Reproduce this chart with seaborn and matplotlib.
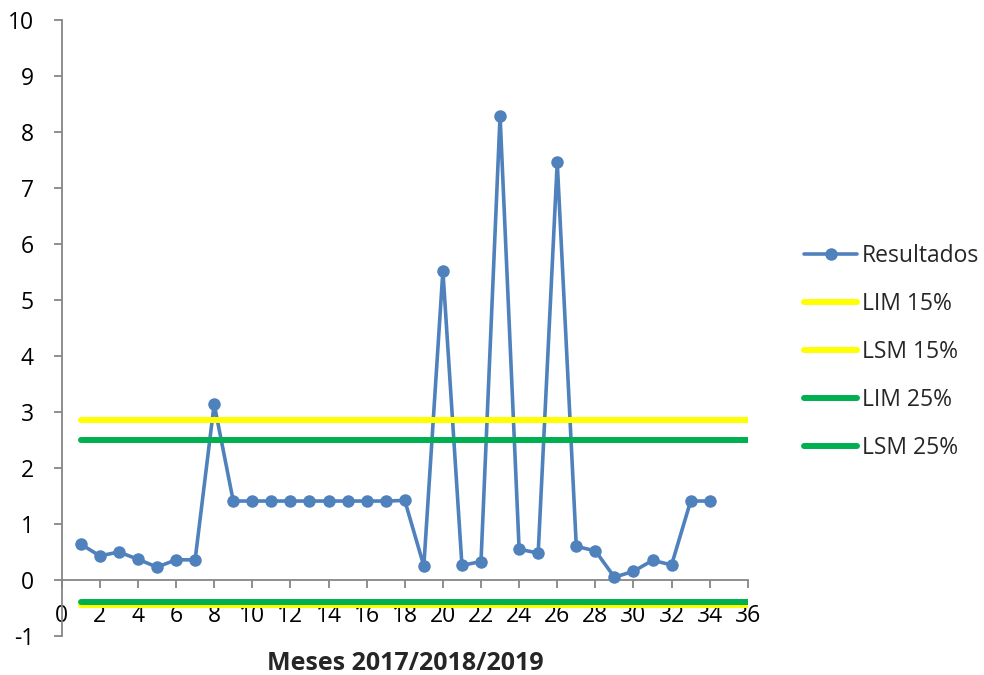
import matplotlib
matplotlib.use("Agg")
import matplotlib.pyplot as plt
import seaborn as sns
import pandas as pd

# Monthly results
meses = list(range(1, 35))
resultados = [0.64, 0.43, 0.50, 0.37, 0.23, 0.36, 0.36, 3.14, 1.41, 1.41,
              1.41, 1.41, 1.41, 1.41, 1.41, 1.41, 1.41, 1.42, 0.25, 5.52,
              0.26, 0.33, 8.29, 0.55, 0.48, 7.46, 0.60, 0.52, 0.05, 0.155,
              0.35, 0.27, 1.41, 1.41]

# Control limits (drawn across months 1..36)
limite_x = [1, 36]
lim_15 = -0.45
lsm_15 = 2.85
lim_25 = -0.40
lsm_25 = 2.50

sns.set_theme(style="white")
plt.rcParams["font.family"] = ["Open Sans", "DejaVu Sans"]
plt.rcParams["axes.unicode_minus"] = False

fig = plt.figure(figsize=(9.84, 6.75), dpi=100)
ax = fig.add_axes([0.0627, 0.0578, 0.6973, 0.9126])

df = pd.DataFrame({"mes": meses, "valor": resultados})
sns.lineplot(data=df, x="mes", y="valor", ax=ax, color="#4F81BD", lw=2.6,
             marker="o", markersize=9, markeredgewidth=0, label="Resultados",
             zorder=3)

limites = [("LIM 15%", lim_15, "#FFFF00"),
           ("LSM 15%", lsm_15, "#FFFF00"),
           ("LIM 25%", lim_25, "#00B050"),
           ("LSM 25%", lsm_25, "#00B050")]
for nombre, valor, color in limites:
    d = pd.DataFrame({"mes": limite_x, "valor": [valor, valor]})
    sns.lineplot(data=d, x="mes", y="valor", ax=ax, color=color, lw=4.3,
                 label=nombre, solid_capstyle="round", zorder=4)

ax.set_xlim(0, 36)
ax.set_ylim(-1, 10)
ax.set_xticks(range(0, 37, 2))
ax.set_yticks(range(-1, 11))

spine_color = "#868686"
for s in ["top", "right"]:
    ax.spines[s].set_visible(False)
ax.spines["bottom"].set_position(("data", 0))
for s in ["left", "bottom"]:
    ax.spines[s].set_color(spine_color)
    ax.spines[s].set_linewidth(1.3)

ax.tick_params(axis="both", which="major", direction="out", length=6,
               width=1.3, color=spine_color, labelsize=16.5, labelcolor="black")
ax.tick_params(axis="y", pad=14)
ax.tick_params(axis="x", pad=11)
ax.xaxis.set_ticks_position("bottom")
ax.yaxis.set_ticks_position("left")

ax.set_xlabel("")
ax.set_ylabel("")
fig.text(0.412, 0.022, "Meses 2017/2018/2019", ha="center", va="center_baseline",
         fontsize=18, fontweight="bold")

leg = ax.legend(loc="upper left", bbox_to_anchor=(0.808, 0.652),
                bbox_transform=fig.transFigure, frameon=False, fontsize=16.5,
                handlelength=2.3, handletextpad=0.2, labelspacing=1.05,
                borderaxespad=0)

fig.savefig("out.png", dpi=100)
